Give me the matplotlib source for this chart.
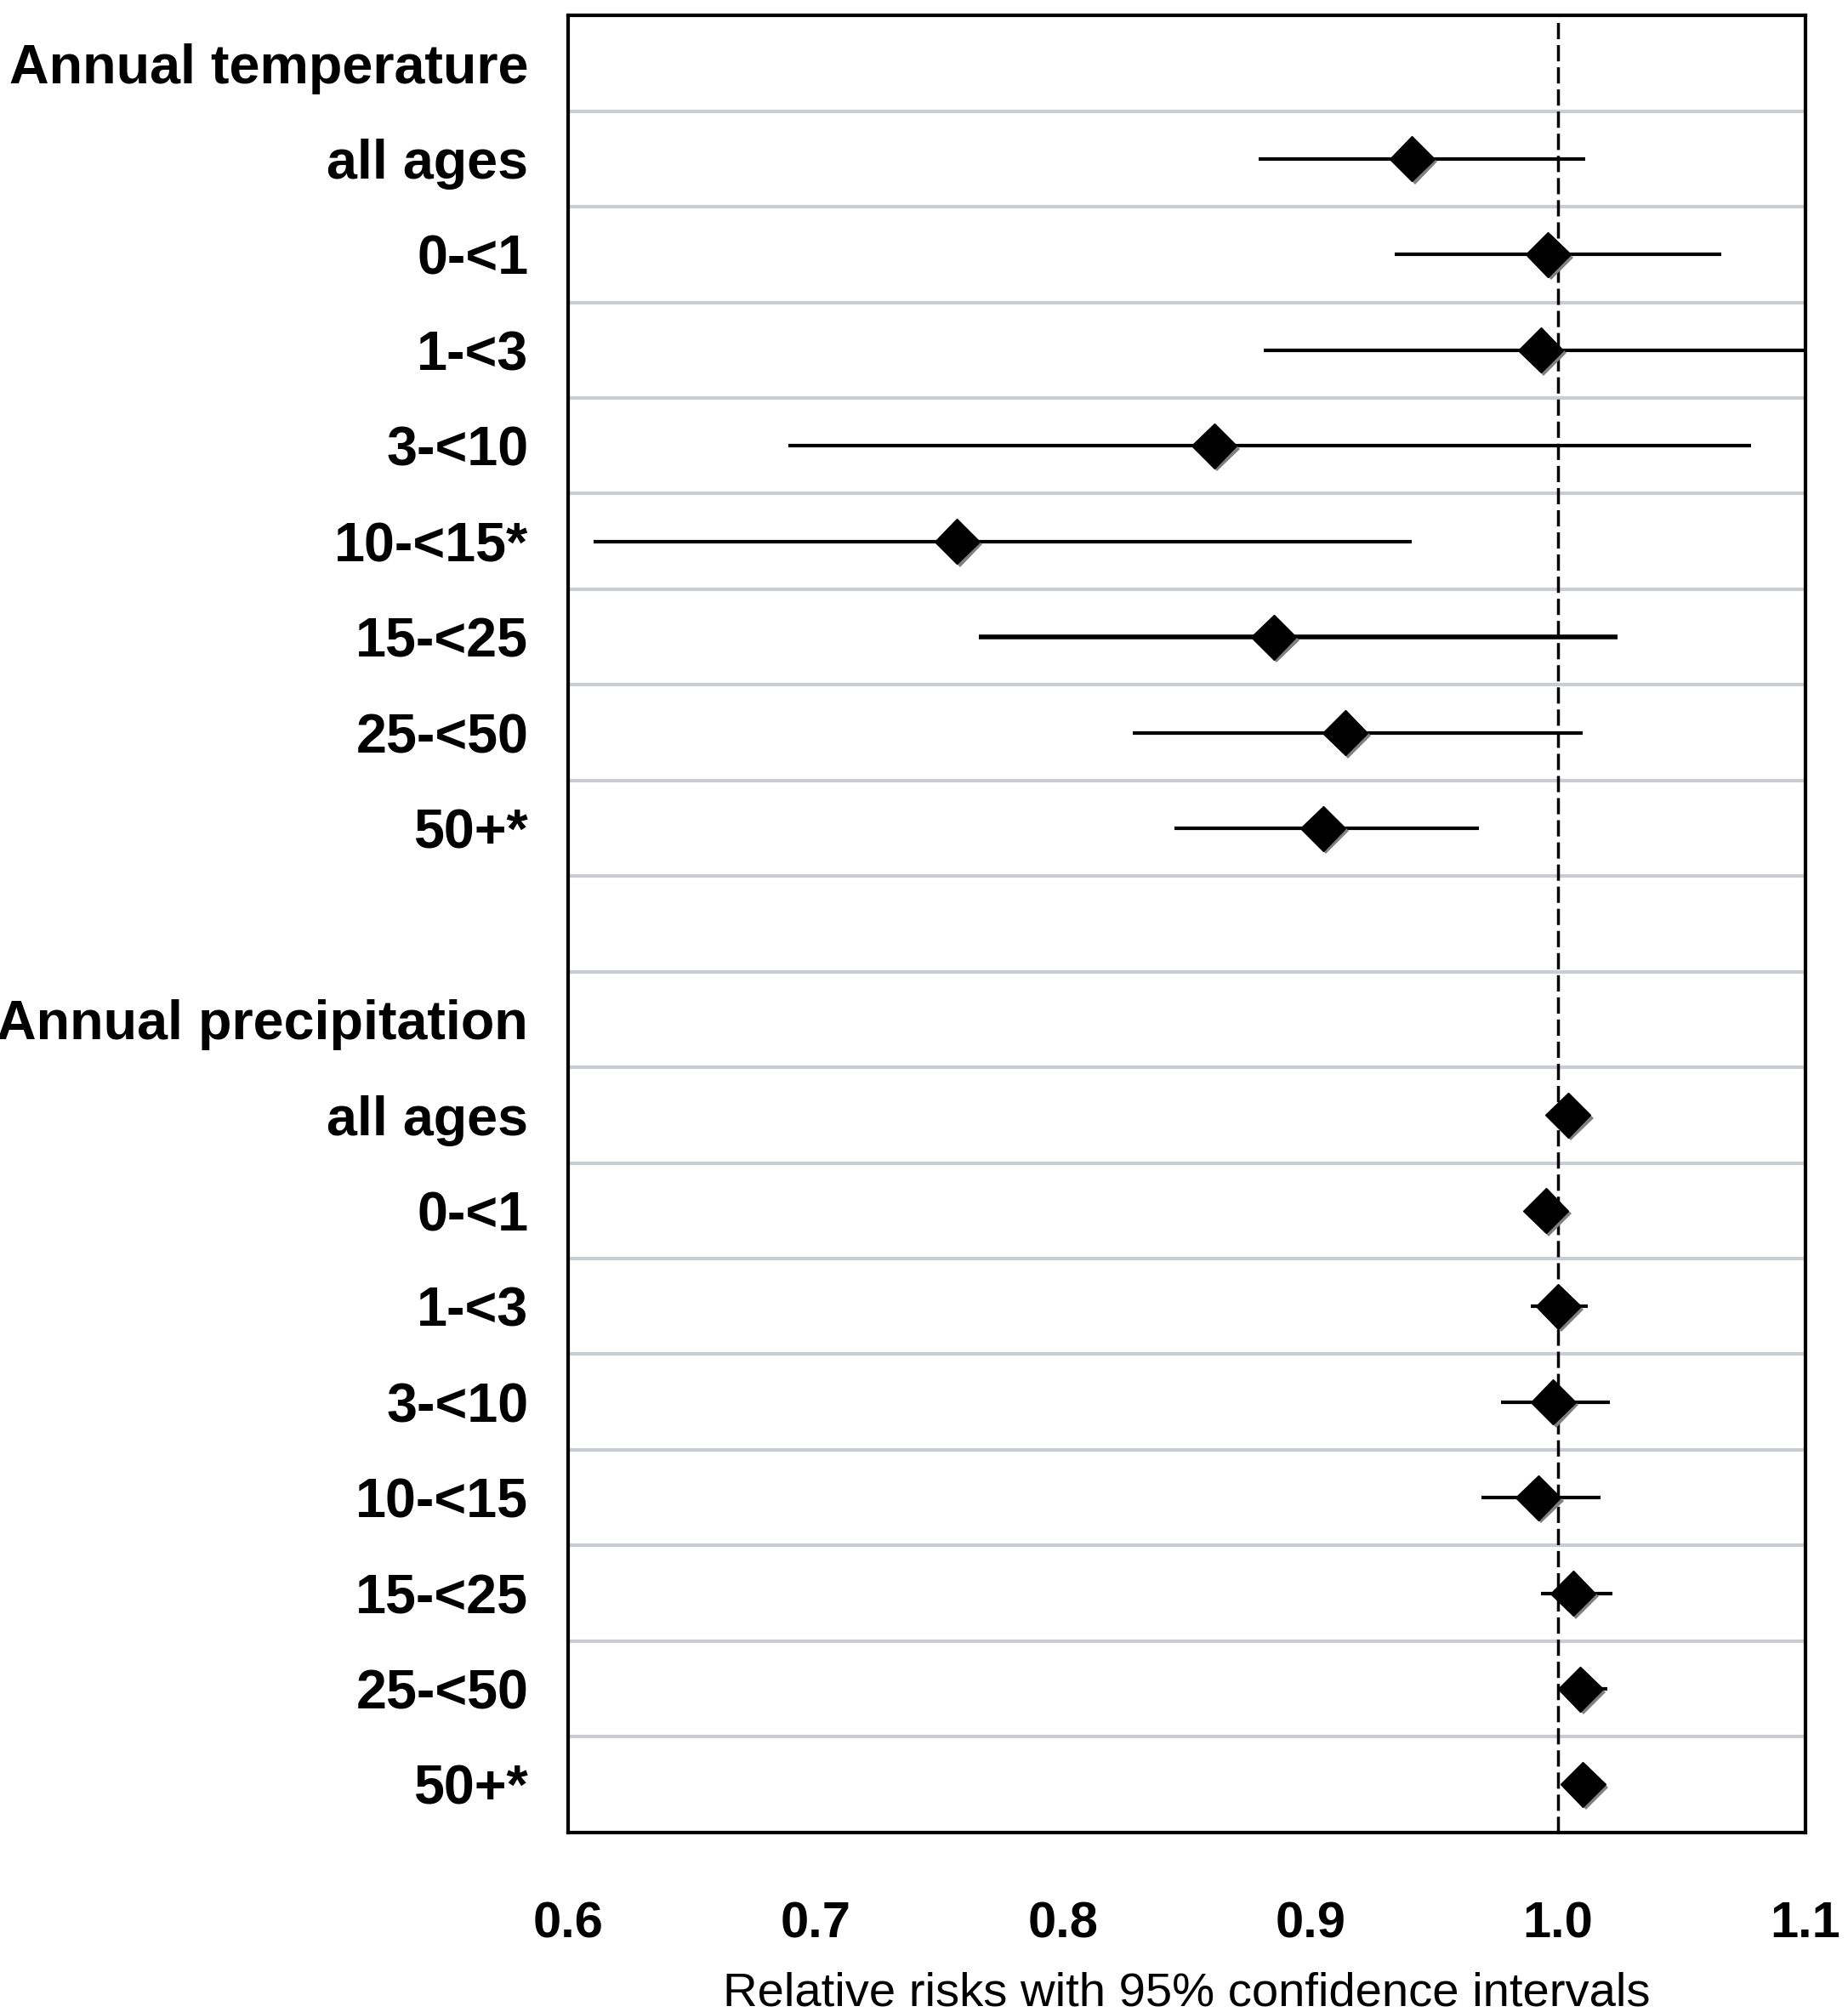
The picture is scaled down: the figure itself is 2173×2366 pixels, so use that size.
import matplotlib
matplotlib.use('Agg')
import matplotlib.pyplot as plt
import matplotlib.patheffects as pe
import numpy as np

FONT = ['Liberation Sans', 'DejaVu Sans']

row_labels = ['Annual temperature', 'all ages', '0-<1', '1-<3', '3-<10', '10-<15*',
              '15-<25', '25-<50', '50+*', '',
              'Annual precipitation', 'all ages', '0-<1', '1-<3', '3-<10', '10-<15',
              '15-<25', '25-<50', '50+*']
# relative risks and 95% CI (nan = header / spacer row)
rr = [np.nan, 0.941, 0.996, 0.993, 0.861, 0.757, 0.885, 0.914, 0.905, np.nan,
      np.nan, 1.004, 0.995, 1.000, 0.998, 0.992, 1.006, 1.009, 1.010]
ci_low = [np.nan, 0.879, 0.934, 0.881, 0.689, 0.610, 0.766, 0.828, 0.845, np.nan,
          np.nan, 1.000, 0.990, 0.989, 0.977, 0.969, 0.993, 1.002, 1.005]
ci_high = [np.nan, 1.011, 1.066, 1.120, 1.078, 0.941, 1.024, 1.010, 0.968, np.nan,
           np.nan, 1.008, 1.000, 1.012, 1.021, 1.017, 1.022, 1.020, 1.015]
xticks = [0.6, 0.7, 0.8, 0.9, 1.0, 1.1]

fig = plt.figure(figsize=(21.73, 23.66), dpi=100)
ax = fig.add_axes([0.3076, 0.0893, 0.6694, 0.903])

y = np.arange(len(row_labels))
for i in range(len(row_labels)):
    if np.isnan(rr[i]):
        continue
    # the 15-<25 temperature line is drawn a bit heavier in the original
    lw = 4 if i == 6 else 3
    ax.plot([ci_low[i], ci_high[i]], [i, i], color='black', lw=lw,
            solid_capstyle='butt', zorder=3)

ax.plot(rr, y, ls='none', marker='D', ms=27, color='black', zorder=4,
        path_effects=[pe.SimplePatchShadow(offset=(2.5, -2.5), shadow_rgbFace='#808080', alpha=1),
                      pe.Normal()])

ax.axvline(1.0, color='black', ls=(0, (5.5, 2)), lw=2.5, zorder=2)

ax.set_xlim(0.6, 1.1)
ax.set_ylim(len(row_labels) - 0.5, -0.5)

ax.set_yticks(y)
ax.set_yticklabels(row_labels, fontsize=46.5, fontweight='bold', family=FONT)
ax.set_yticks(np.arange(0.5, len(row_labels) - 1, 1), minor=True)
ax.grid(which='minor', axis='y', color='#c9cdd2', lw=3, zorder=1)
ax.tick_params(axis='y', which='both', length=0, pad=34)

ax.set_xticks(xticks)
ax.set_xticklabels([f'{t:.1f}' for t in xticks], fontsize=43, fontweight='bold', family=FONT)
ax.tick_params(axis='x', length=0, pad=58)
ax.set_xlabel('Relative risks with 95% confidence intervals', fontsize=40.5, family=FONT, labelpad=20)

for s in ax.spines.values():
    s.set_linewidth(3)
    s.set_color('black')

fig.savefig('out.png', dpi=100)
